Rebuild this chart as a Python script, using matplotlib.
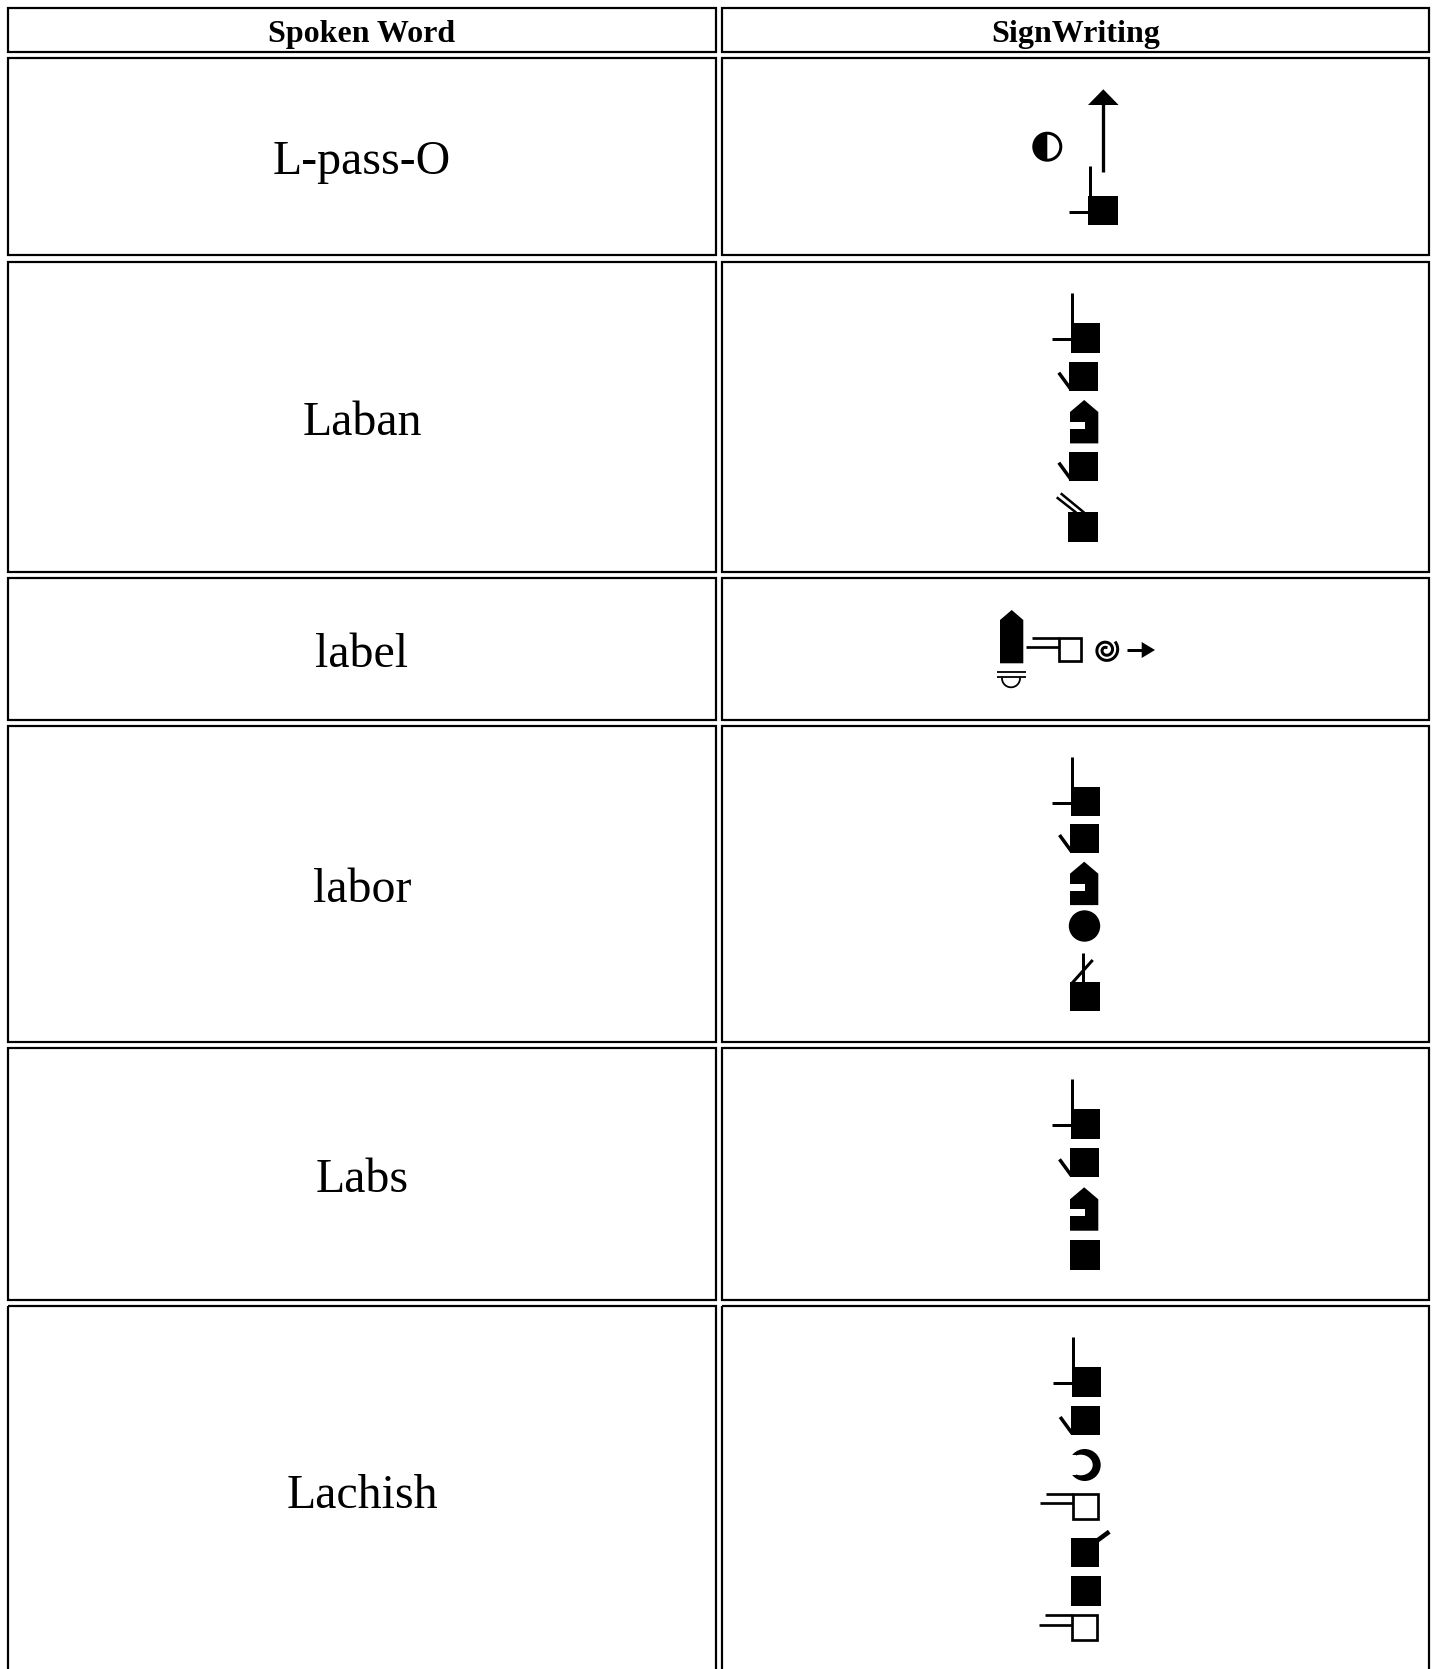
import matplotlib
matplotlib.use("Agg")
import matplotlib.pyplot as plt
from matplotlib.patches import Rectangle, Polygon, Circle, Wedge, Ellipse
import numpy as np

# ---------------- data ----------------
headers = ["Spoken Word", "SignWriting"]
words = ["L-pass-O", "Laban", "label", "labor", "Labs", "Lachish"]
# SignWriting symbols that compose each sign
signs = [
    ["half_circle", "arrow_up", "hand_index"],
    ["hand_index", "hand_check", "hand_notch", "hand_check", "hand_double"],
    ["hand_tall", "open_hand_lines", "spiral", "arrow_right"],
    ["hand_index", "hand_check", "hand_notch", "dot", "hand_cross"],
    ["hand_index", "hand_check", "hand_notch", "fist"],
    ["hand_index", "hand_check", "crescent", "open_hand_lines",
     "hand_stub", "fist", "open_hand_lines"],
]

# ---------------- layout (pixels) ----------------
W, H = 1435, 1669
col_edges = [(8, 716), (722, 1429)]
row_edges = [(8, 52), (58, 255), (262, 572), (578, 720), (726, 1042),
             (1048, 1300), (1306, 1700)]
text_y = [34.5, 162.5, 423, 655, 890, 1180, 1496]
anchors = [
    [(1047.3, 146.7), (1103.3, 89.3), (1088.3, 195.7)],
    [(1070.7, 323.3), (1069.3, 361.7), (1070, 400), (1069.3, 451.7), (1068.3, 511.7)],
    [(1000, 610), (1057.3, 636.7), (1106, 650), (1126.7, 650)],
    [(1070.7, 786.7), (1070, 824), (1070, 861.7), (1084.5, 926), (1070, 981.7)],
    [(1070.7, 1109.3), (1070, 1148.3), (1070, 1187.3), (1070, 1240)],
    [(1071.7, 1367.3), (1070.7, 1406), (1084.7, 1465), (1071.7, 1492.3),
     (1070.7, 1538.3), (1070.7, 1576), (1070.7, 1614)],
]
open_sizes = {2: 25.5, 5: 27.6}

fig = plt.figure(figsize=(W / 100, H / 100), dpi=100)
ax = fig.add_axes([0, 0, 1, 1])
ax.set_xlim(0, W)
ax.set_ylim(H, 0)
ax.axis("off")

def pt(v):
    return v * 0.72

K = "black"

def line(x0, y0, x1, y1, w=3.0, cap="butt"):
    ax.plot([x0, x1], [y0, y1], color=K, lw=pt(w), solid_capstyle=cap)

def sq(x, y, s=29.5, h=None):
    ax.add_patch(Rectangle((x, y), s, h if h else s, fc=K, ec="none"))

def half_circle(cx, cy, **kw):
    r = 15.0
    ax.add_patch(Circle((cx, cy), r - 1.5, fc="white", ec=K, lw=pt(3)))
    ax.add_patch(Wedge((cx, cy), r - 1.5, 90, 270, fc=K, ec="none"))

def arrow_up(x, y, **kw):
    line(x, y + 14, x, y + 82.4, 3.3)
    ax.add_patch(Polygon([(x, y), (x - 15.3, y + 15.7), (x + 15.3, y + 15.7)],
                         closed=True, fc=K, ec="none"))

def hand_index(x, y, **kw):
    sq(x, y, 29.5)
    line(x + 1.5, y - 30, x + 1.5, y + 1, 3)
    line(x - 19, y + 16, x + 1, y + 16, 3)

def hand_check(x, y, **kw):
    sq(x, y, 29)
    line(x - 10.5, y + 11, x + 1.5, y + 27.5, 3.5)

def hand_notch(x, y, **kw):
    ax.add_patch(Polygon([(x, y + 12), (x + 14.2, y), (x + 28.3, y + 12),
                          (x + 28.3, y + 43.4), (x, y + 43.4)],
                         closed=True, fc=K, ec="none"))
    ax.add_patch(Rectangle((x - 0.5, y + 22), 15.5, 7, fc="white", ec="none"))

def hand_double(x, y, **kw):
    sq(x, y, 30)
    line(x - 11.6, y - 14.4, x + 8, y + 1, 2.5)
    line(x - 7.6, y - 18.4, x + 16, y + 1, 2.5)

def dot(cx, cy, **kw):
    ax.add_patch(Circle((cx, cy), 15.7, fc=K, ec="none"))

def hand_cross(x, y, **kw):
    sq(x, y, 29.5)
    line(x + 12.7, y - 28.4, x + 12.7, y + 1, 3)
    line(x + 22.7, y - 21.7, x + 2.0, y + 1.5, 3)

def fist(x, y, **kw):
    sq(x, y, 30)

def hand_tall(x, y, **kw):
    ax.add_patch(Polygon([(x, y + 10), (x + 11.7, y), (x + 23.3, y + 10),
                          (x + 23.3, y + 53.3), (x, y + 53.3)],
                         closed=True, fc=K, ec="none"))
    line(x - 3.3, y + 62.3, x + 25.5, y + 62.3, 1.8)
    line(x - 3.3, y + 67.3, x + 25.5, y + 67.3, 1.8)
    t = np.linspace(0, np.pi, 40)
    ax.plot(x + 11 + 9 * np.cos(t), y + 68.3 + 9 * np.sin(t), color=K, lw=pt(1.8))

def open_hand_lines(x, y, s=27.6, **kw):
    w = 2.7
    ax.add_patch(Rectangle((x + w / 2, y + w / 2), s - w, s - w,
                           fc="none", ec=K, lw=pt(w)))
    line(x - 25.7, y + w / 2, x + w / 2, y + w / 2, w)
    line(x - 31.5, y + 10.5, x + w / 2, y + 10.5, w)

def spiral(cx, cy, **kw):
    sweep = 3.7 * np.pi
    t = np.linspace(0, sweep, 300)
    ang = np.pi / 5 - (sweep - t)
    r = 2.6 + 9.6 * t / sweep
    ax.plot(cx + r * np.cos(ang), cy - r * np.sin(ang), color=K, lw=pt(3.0))

def arrow_right(x, y, **kw):
    line(x, y, x + 17, y, 3)
    ax.add_patch(Polygon([(x + 15, y - 8), (x + 15, y + 8), (x + 28.3, y)],
                         closed=True, fc=K, ec="none"))

def crescent(cx, cy, **kw):
    ax.add_patch(Circle((cx, cy), 16, fc=K, ec="none"))
    ax.add_patch(Ellipse((cx - 4, cy), 24, 20.6, fc="white", ec="none"))
    ax.add_patch(Rectangle((cx - 17, cy - 10.3), 8, 20.6, fc="white", ec="none"))

def hand_stub(x, y, **kw):
    sq(x, y, 28.6, 28.4)
    line(x + 25.5, y + 3, x + 38.6, y - 6.6, 4.6)

draw = {
    "half_circle": half_circle, "arrow_up": arrow_up, "hand_index": hand_index,
    "hand_check": hand_check, "hand_notch": hand_notch, "hand_double": hand_double,
    "dot": dot, "hand_cross": hand_cross, "fist": fist, "hand_tall": hand_tall,
    "open_hand_lines": open_hand_lines, "spiral": spiral,
    "arrow_right": arrow_right, "crescent": crescent, "hand_stub": hand_stub,
}

# ---------------- table cells ----------------
for (y0, y1) in row_edges:
    for (x0, x1) in col_edges:
        ax.add_patch(Rectangle((x0, y0), x1 - x0, y1 - y0, fc="none",
                               ec=K, lw=pt(2.2), clip_on=False))

cx_left = (col_edges[0][0] + col_edges[0][1]) / 2
cx_right = (col_edges[1][0] + col_edges[1][1]) / 2
for j, htxt in enumerate(headers):
    cx = cx_left if j == 0 else cx_right
    ax.text(cx, text_y[0], htxt, ha="center", va="center",
            family=["Liberation Serif", "DejaVu Serif"], weight="bold", fontsize=23)

for i, w in enumerate(words):
    ax.text(cx_left, text_y[i + 1], w, ha="center", va="center",
            family=["Liberation Serif", "DejaVu Serif"], fontsize=34.5)

for i, syms in enumerate(signs):
    for name, (ax_, ay_) in zip(syms, anchors[i]):
        if name == "open_hand_lines":
            draw[name](ax_, ay_, s=open_sizes[i])
        else:
            draw[name](ax_, ay_)

fig.savefig("out.png", dpi=100, facecolor="white")
